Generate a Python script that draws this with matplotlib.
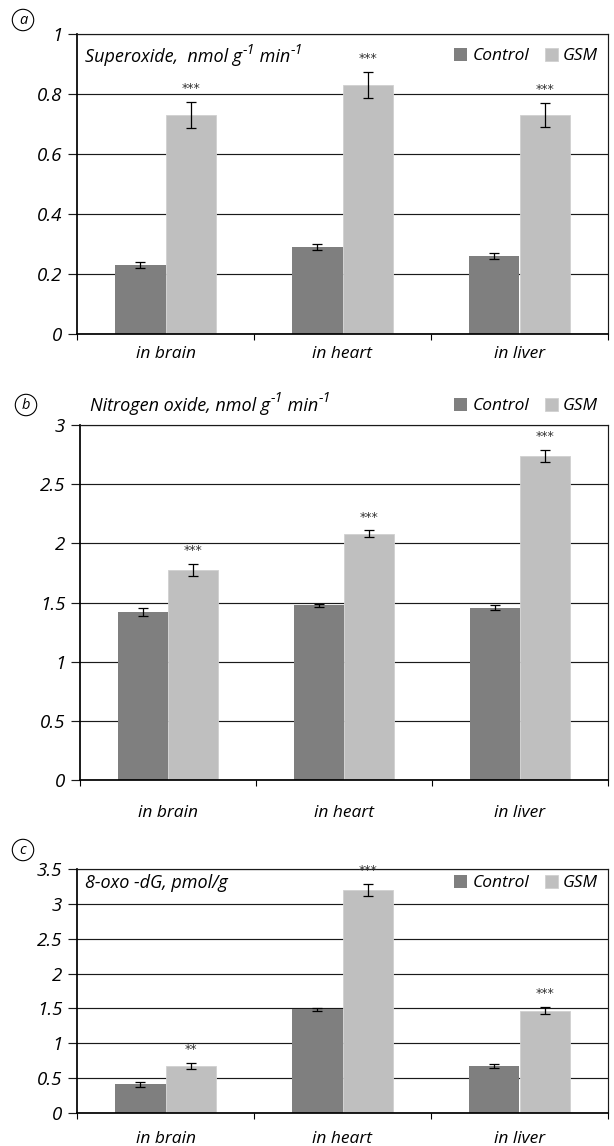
import numpy as np
import matplotlib
matplotlib.use("Agg")
import matplotlib.pyplot as plt

FONT = ['Open Sans', 'DejaVu Sans']
plt.rcParams['font.family'] = FONT
plt.rcParams['font.style'] = 'italic'

# ---- data ----
organs = ["in brain", "in heart", "in liver"]
series = ["Control", "GSM"]

superoxide_control = [0.23, 0.29, 0.26]
superoxide_control_err = [0.011, 0.011, 0.011]
superoxide_gsm = [0.73, 0.83, 0.73]
superoxide_gsm_err = [0.043, 0.044, 0.041]
superoxide_stars = ["***", "***", "***"]

no_control = [1.42, 1.475, 1.455]
no_control_err = [0.03, 0.01, 0.02]
no_gsm = [1.775, 2.08, 2.74]
no_gsm_err = [0.05, 0.03, 0.05]
no_stars = ["***", "***", "***"]

oxodg_control = [0.41, 1.49, 0.67]
oxodg_control_err = [0.032, 0.02, 0.03]
oxodg_gsm = [0.67, 3.2, 1.47]
oxodg_gsm_err = [0.045, 0.09, 0.05]
oxodg_stars = ["**", "***", "***"]

C_CONTROL = "#7f7f7f"
C_GSM = "#bfbfbf"
GRID = "#1a1a1a"
FS = 12.5
FS_Y = 13.5
FS_TITLE = 13

W, H = 614, 1146
fig = plt.figure(figsize=(W / 100, H / 100), dpi=100)
renderer = fig.canvas.get_renderer()


def px_axes(left, top, right, bottom):
    return fig.add_axes([left / W, 1 - bottom / H, (right - left) / W, (bottom - top) / H])


def fx(x):
    return x / W


def fy(y):
    return 1 - y / H


def draw_panel(ax, ctrl, ctrl_err, gsm, gsm_err, stars, ymax, ystep, xpad):
    x = np.arange(len(organs))
    w = 0.285
    ax.set_axisbelow(True)
    ax.bar(x - w / 2, ctrl, w, color=C_CONTROL, edgecolor="none", label=series[0], zorder=2)
    ax.bar(x + w / 2, gsm, w, color=C_GSM, edgecolor="#d0d0d0", linewidth=0.6,
           label=series[1], zorder=2)
    ax.errorbar(x - w / 2, ctrl, yerr=ctrl_err, fmt="none", ecolor="black",
                elinewidth=0.9, capsize=3.8, capthick=0.9, zorder=3)
    ax.errorbar(x + w / 2, gsm, yerr=gsm_err, fmt="none", ecolor="black",
                elinewidth=0.9, capsize=3.8, capthick=0.9, zorder=3)
    for xi, v, e, s in zip(x + w / 2, gsm, gsm_err, stars):
        ax.annotate(s, xy=(xi, v + e), xytext=(0, 9.5), textcoords="offset points",
                    ha="center", va="center", fontsize=9, color="#333333",
                    family="DejaVu Sans", style="normal", zorder=4)
    ax.set_xlim(-0.5, len(organs) - 0.5)
    ax.set_ylim(0, ymax)
    yt = np.round(np.arange(0, ymax + ystep / 2, ystep), 2)
    ax.set_yticks(yt)
    ax.set_yticklabels([f"{v:g}" for v in yt], fontsize=FS_Y, style="italic")
    ax.yaxis.grid(True, color=GRID, linewidth=0.85)
    ax.tick_params(axis="y", length=6.5, width=0.85, color=GRID, pad=4)
    ax.set_xticks(x)
    ax.set_xticklabels(organs, fontsize=FS, style="italic")
    ax.set_xticks(np.arange(len(organs) + 1) - 0.5, minor=True)
    ax.tick_params(axis="x", which="major", length=0, pad=xpad)
    ax.tick_params(axis="x", which="minor", length=4.5, width=0.8, color="black")
    for side in ("left", "bottom"):
        ax.spines[side].set_linewidth(1.25)
        ax.spines[side].set_color("black")
    for side in ("top", "right"):
        ax.spines[side].set_linewidth(0.85)
        ax.spines[side].set_color(GRID)


def rich_title(x, y, runs):
    """Draw a line of text made of (string, is_superscript) runs, left to right."""
    cur = fx(x)
    for s, sup in runs:
        size = FS_TITLE * 0.8 if sup else FS_TITLE
        yy = fy(y - 7) if sup else fy(y)
        t = fig.text(cur, yy, s, fontsize=size, ha="left", va="center", style="italic")
        bb = t.get_window_extent(renderer=renderer)
        cur += bb.width / W + (0.5 / W if sup else 0)


def panel_letter(letter, x, y):
    fig.text(fx(x), fy(y), letter, ha="center", va="center", fontsize=10.5, style="italic",
             bbox=dict(boxstyle="circle,pad=0.22", fc="none", ec="black", lw=0.8))


def legend_at(ax, xr, yc):
    ax.legend(loc="center right", bbox_to_anchor=(fx(xr), fy(yc)),
              bbox_transform=fig.transFigure, ncol=2, frameon=False,
              prop=dict(size=FS, style="italic", family=FONT),
              handlelength=0.75, handleheight=0.75,
              handletextpad=0.3, columnspacing=0.9, borderaxespad=0, borderpad=0)


# (a) superoxide
ax_a = px_axes(77, 34, 608, 334)
draw_panel(ax_a, superoxide_control, superoxide_control_err, superoxide_gsm,
           superoxide_gsm_err, superoxide_stars, 1.0, 0.2, 9)
rich_title(85, 57, [("Superoxide,  nmol g", False), ("-1", True), (" min", False), ("-1", True)])
legend_at(ax_a, 598, 56)
panel_letter("a", 23, 20)

# (b) nitrogen oxide
ax_b = px_axes(80, 425, 608, 780)
draw_panel(ax_b, no_control, no_control_err, no_gsm, no_gsm_err, no_stars, 3.0, 0.5, 18)
rich_title(90, 406, [("Nitrogen oxide, nmol g", False), ("-1", True), (" min", False), ("-1", True)])
legend_at(ax_b, 598, 406)
panel_letter("b", 26, 405)

# (c) 8-oxo-dG
ax_c = px_axes(77, 869, 608, 1113)
draw_panel(ax_c, oxodg_control, oxodg_control_err, oxodg_gsm, oxodg_gsm_err, oxodg_stars,
           3.5, 0.5, 13)
rich_title(85, 883, [("8-oxo -dG, pmol/g", False)])
legend_at(ax_c, 598, 883)
panel_letter("c", 23, 850)

fig.savefig("out.png", dpi=100)
